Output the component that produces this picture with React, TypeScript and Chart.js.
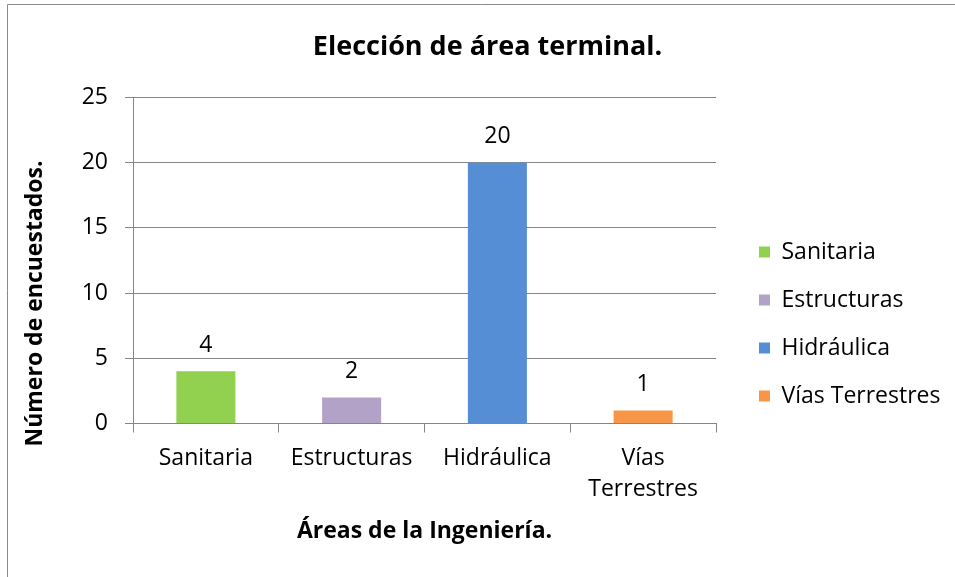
import React, { useEffect, useRef } from "react";
import { Chart, registerables } from "chart.js";

Chart.register(...registerables);

const chartTitle = "Elección de área terminal.";
const xAxisTitle = "Áreas de la Ingeniería.";
const yAxisTitle = "Número de encuestados.";
const categories: string[][] = [["Sanitaria"], ["Estructuras"], ["Hidráulica"], ["Vías", "Terrestres"]];
const legendNames = ["Sanitaria", "Estructuras", "Hidráulica", "Vías Terrestres"];
const values = [4, 2, 20, 1];
const colors = ["#92D050", "#B3A2C7", "#558ED5", "#F79646"];
const yTicks = [0, 5, 10, 15, 20, 25];

const FONT = '"Open Sans", "Noto Sans", sans-serif';
const GRID = "#868686";
const LABEL_SIZE = 23;

const framePlugin = {
  id: "frame",
  beforeDraw(chart: any) {
    const { ctx, width, height } = chart;
    ctx.save();
    ctx.fillStyle = "#ffffff";
    ctx.fillRect(0, 0, width, height);
    ctx.strokeStyle = "#8a8a8a";
    ctx.lineWidth = 1;
    ctx.beginPath();
    ctx.moveTo(7.5, height);
    ctx.lineTo(7.5, 4.5);
    ctx.lineTo(width, 4.5);
    ctx.stroke();
    ctx.restore();
  },
};

const legendPlacer = {
  id: "legendPlacer",
  afterLayout(chart: any) {
    const lg = chart.legend;
    if (!lg) return;
    const w = lg.width;
    lg.left = 734;
    lg.right = 734 + w;
    lg.top = 200;
    lg.bottom = 448;
  },
};

const valueLabels = {
  id: "valueLabels",
  afterDatasetsDraw(chart: any) {
    const { ctx } = chart;
    const meta = chart.getDatasetMeta(0);
    ctx.save();
    ctx.font = `${LABEL_SIZE}px ${FONT}`;
    ctx.fillStyle = "#000000";
    ctx.textAlign = "center";
    ctx.textBaseline = "middle";
    meta.data.forEach((bar: any, i: number) => {
      ctx.fillText(String(values[i]), bar.x, bar.y - 26);
    });
    ctx.restore();
  },
};

const yTitlePlugin = {
  id: "yTitle",
  afterDraw(chart: any) {
    const { ctx, chartArea } = chart;
    ctx.save();
    ctx.translate(35, chartArea.bottom - 120);
    ctx.rotate(-Math.PI / 2);
    ctx.font = `bold ${LABEL_SIZE}px ${FONT}`;
    ctx.fillStyle = "#000000";
    ctx.textAlign = "center";
    ctx.textBaseline = "middle";
    ctx.fillText(yAxisTitle, 0, 0);
    ctx.restore();
  },
};

export default function App() {
  const ref = useRef<HTMLCanvasElement | null>(null);

  useEffect(() => {
    if (!ref.current) return;
    const chart = new Chart(ref.current, {
      type: "bar",
      data: {
        labels: categories as any,
        datasets: [
          {
            label: "Encuestados",
            data: values,
            backgroundColor: colors,
            borderWidth: 0,
            yAxisID: "y",
            categoryPercentage: 1,
            barPercentage: 0.405,
          },
        ],
      },
      options: {
        responsive: false,
        animation: false,
        layout: { padding: { left: 20, right: 0, top: 0, bottom: 0 } },
        plugins: {
          title: {
            display: true,
            text: chartTitle,
            color: "#000000",
            font: { family: FONT, size: 27, weight: "bold", lineHeight: 1.2 },
            padding: { top: 30.8, bottom: 34.3 },
          },
          legend: {
            display: true,
            position: "chartArea" as any,
            labels: {
              boxWidth: 11,
              boxHeight: 11,
              padding: 25,
              color: "#000000",
              font: { family: FONT, size: LABEL_SIZE },
              generateLabels: () =>
                legendNames.map((name, i) => ({
                  text: name,
                  fillStyle: colors[i],
                  strokeStyle: colors[i],
                  lineWidth: 0,
                  hidden: false,
                  index: i,
                  datasetIndex: 0,
                })),
            },
          },
          tooltip: { enabled: false },
        },
        scales: {
          x: {
            grid: { drawOnChartArea: false, drawTicks: true, tickLength: 9, color: GRID, offset: true },
            border: { display: true, color: GRID },
            ticks: {
              color: "#000000",
              font: { family: FONT, size: LABEL_SIZE, lineHeight: 1.35 },
              padding: 10,
              maxRotation: 0,
              autoSkip: false,
            },
            title: {
              display: true,
              text: xAxisTitle,
              color: "#000000",
              font: { family: FONT, size: LABEL_SIZE, weight: "bold", lineHeight: 1.2 },
              padding: { top: 0, bottom: 31.5 },
            },
            afterFit: (s: any) => {
              s.height = 153.5;
            },
          },
          y: {
            min: 0,
            max: 25,
            afterBuildTicks: (s: any) => {
              s.ticks = yTicks.map((v) => ({ value: v }));
            },
            grid: { color: GRID, tickLength: 8, lineWidth: 1 },
            border: { display: true, color: GRID },
            ticks: {
              color: "#000000",
              font: { family: FONT, size: LABEL_SIZE },
              padding: 17,
            },
            afterFit: (s: any) => {
              s.width = 113;
            },
          },
          yRight: {
            type: "linear",
            position: "right",
            display: true,
            grid: { display: false, drawTicks: false },
            border: { display: false },
            ticks: { display: false },
            afterFit: (s: any) => {
              s.width = 239;
            },
          },
        },
      } as any,
      plugins: [framePlugin, legendPlacer, valueLabels, yTitlePlugin],
    });
    return () => chart.destroy();
  }, []);

  return (
    <div style={{ position: "fixed", left: 0, top: 0, width: 955, height: 577, background: "#fff" }}>
      <canvas ref={ref} width={955} height={577} style={{ display: "block", width: 955, height: 577 }} />
    </div>
  );
}
